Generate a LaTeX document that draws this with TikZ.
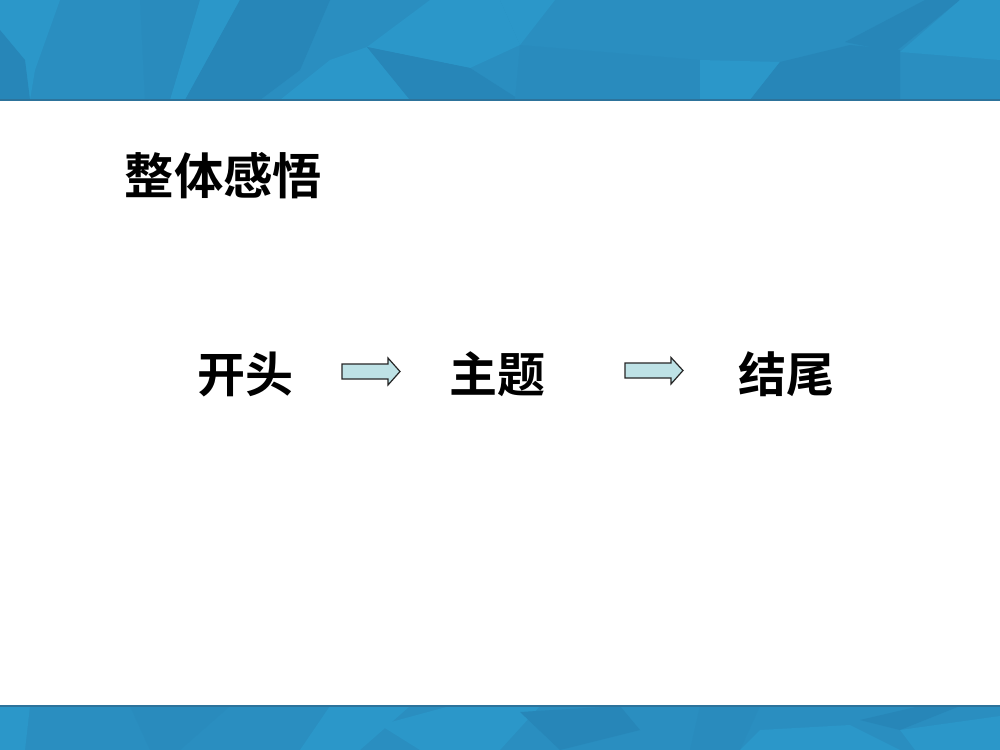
\documentclass[tikz,border=0pt]{standalone}
\usepackage{fontspec}
\newfontfamily\cjk{Noto Sans CJK SC}[BoldFont={Noto Sans CJK SC Bold}]
\definecolor{bbase}{RGB}{42,142,192}
\definecolor{blight}{RGB}{43,151,201}
\definecolor{bdark}{RGB}{39,134,184}
\definecolor{bmid}{RGB}{41,139,189}
\definecolor{bline}{RGB}{45,115,155}
\definecolor{arrowfill}{RGB}{190,226,230}
\tikzset{
  lbl/.style={font=\cjk\bfseries\fontsize{36pt}{40pt}\selectfont, inner sep=0pt, text=black},
  ttl/.style={font=\cjk\bfseries\fontsize{37pt}{42pt}\selectfont, inner sep=0pt, text=black},
  blockarrow/.style={fill=arrowfill, draw=black!85, line width=0.9pt, line join=miter},
}
\begin{document}
\begin{tikzpicture}[x=0.75pt,y=-0.75pt]
\useasboundingbox (0,0) rectangle (1000,750);
\fill[white] (0,0) rectangle (1000,750);
% top banner
\fill[bbase] (0,0) rectangle (1000,100);
\fill[blight] (0,0) -- (60,0) -- (35,70) -- (30,100) -- (0,100) -- (0,40) -- cycle;
\fill[bdark] (0,30) -- (25,60) -- (30,100) -- (0,100) -- cycle;
\fill[bmid] (140,0) -- (200,0) -- (170,100) -- (145,100) -- cycle;
\fill[blight] (200,0) -- (240,0) -- (185,100) -- (170,100) -- cycle;
\fill[bdark] (240,0) -- (330,0) -- (300,70) -- (260,100) -- (185,100) -- cycle;
\fill[blight] (330,60) -- (367,47) -- (410,100) -- (280,100) -- cycle;
\fill[blight] (367,47) -- (430,0) -- (500,0) -- (520,45) -- (470,68) -- cycle;
\fill[bdark] (367,47) -- (470,68) -- (520,100) -- (410,100) -- cycle;
\fill[blight] (500,0) -- (555,0) -- (520,45) -- cycle;
\fill[bmid] (520,45) -- (700,60) -- (700,100) -- (515,100) -- cycle;
\fill[blight] (700,60) -- (780,62) -- (750,100) -- (700,100) -- cycle;
\fill[bdark] (780,62) -- (850,45) -- (900,50) -- (900,100) -- (750,100) -- cycle;
\fill[bdark] (845,42) -- (925,0) -- (960,0) -- (895,52) -- cycle;
\fill[blight] (960,0) -- (1000,0) -- (1000,60) -- (900,52) -- cycle;
\draw[bline, line width=0.8pt] (0,100) -- (1000,100);
% bottom banner
\fill[bbase] (0,706) rectangle (1000,750);
\fill[blight] (0,706) -- (30,706) -- (25,750) -- (0,750) -- cycle;
\fill[bmid] (130,706) -- (230,706) -- (180,750) -- (150,750) -- cycle;
\fill[blight] (330,706) -- (410,706) -- (360,750) -- (300,750) -- cycle;
\fill[blight] (380,725) -- (450,706) -- (540,706) -- (500,750) -- (420,750) -- cycle;
\fill[bdark] (520,712) -- (620,706) -- (640,730) -- (560,750) -- cycle;
\fill[bmid] (700,706) -- (760,706) -- (740,750) -- (690,750) -- cycle;
\fill[blight] (760,730) -- (850,725) -- (900,750) -- (740,750) -- cycle;
\fill[bdark] (860,720) -- (920,706) -- (960,706) -- (900,730) -- cycle;
\fill[blight] (900,730) -- (1000,716) -- (1000,750) -- (915,750) -- cycle;
\draw[bline, line width=0.8pt] (0,706) -- (1000,706);
% texts
\node[ttl] (title) at (223.5,176) {整体感悟};
\node[lbl] (start) at (245,374) {开头};
\node[lbl] (theme) at (497,374) {主题};
\node[lbl] (ending) at (786,374) {结尾};
% block arrows
\draw[blockarrow] (342,364) -- (388,364) -- (388,358) -- (400,371.5) -- (388,385) -- (388,379) -- (342,379) -- cycle;
\draw[blockarrow] (625,363) -- (671,363) -- (671,357.5) -- (683,370.5) -- (671,384) -- (671,378) -- (625,378) -- cycle;
\end{tikzpicture}
\end{document}
